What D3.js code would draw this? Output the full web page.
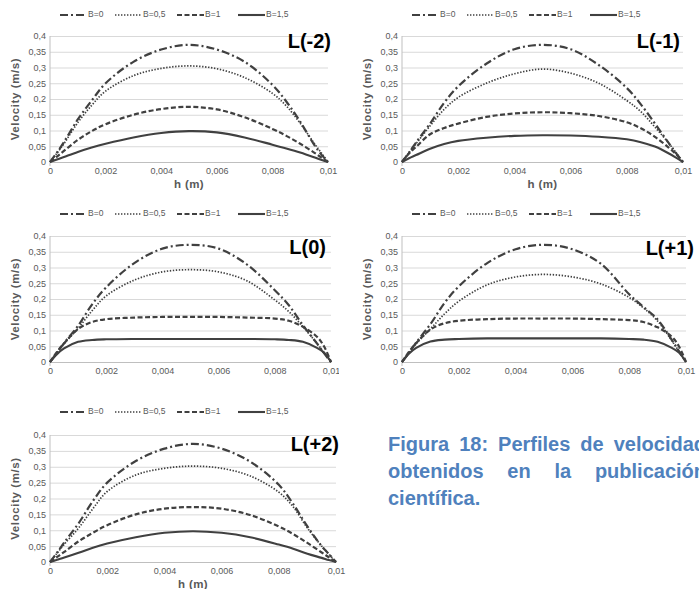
<!DOCTYPE html>
<html>
<head>
<meta charset="utf-8">
<script src="https://cdn.jsdelivr.net/npm/d3@7"></script>
<style>
  body { margin: 0; background: #fff; }
  svg { display: block; }
</style>
</head>
<body>
<div id="chart"></div>
<script>
// channel position h (m), shared by every profile
var hValues = [0, 0.00025, 0.0005, 0.001, 0.0015, 0.002, 0.003, 0.004, 0.005, 0.006, 0.007, 0.008, 0.0085, 0.009, 0.0095, 0.00975, 0.01];

var seriesNames = ["B=0", "B=0,5", "B=1", "B=1,5"];

var yTicks = [0, 0.05, 0.1, 0.15, 0.2, 0.25, 0.3, 0.35, 0.4];
var yTickLabels = ["0", "0,05", "0,1", "0,15", "0,2", "0,25", "0,3", "0,35", "0,4"];
var xTicks = [0, 0.002, 0.004, 0.006, 0.008, 0.01];
var xTickLabels = ["0", "0,002", "0,004", "0,006", "0,008", "0,01"];

// velocity (m/s), one row per B value
var profilesLm2 = [
  [0, 0.03, 0.063, 0.135, 0.195, 0.25, 0.318, 0.357, 0.372, 0.357, 0.318, 0.245, 0.192, 0.128, 0.055, 0.025, 0],
  [0, 0.028, 0.058, 0.125, 0.18, 0.225, 0.274, 0.297, 0.305, 0.296, 0.268, 0.218, 0.178, 0.123, 0.06, 0.03, 0],
  [0, 0.017, 0.035, 0.07, 0.098, 0.12, 0.15, 0.168, 0.175, 0.167, 0.142, 0.105, 0.083, 0.058, 0.03, 0.015, 0],
  [0, 0.008, 0.016, 0.032, 0.046, 0.058, 0.078, 0.092, 0.098, 0.094, 0.078, 0.055, 0.043, 0.03, 0.015, 0.007, 0]
];
var profilesLm1 = [
  [0, 0.03, 0.062, 0.122, 0.188, 0.24, 0.312, 0.358, 0.372, 0.358, 0.308, 0.235, 0.183, 0.122, 0.059, 0.028, 0],
  [0, 0.03, 0.058, 0.115, 0.167, 0.205, 0.25, 0.28, 0.295, 0.282, 0.25, 0.195, 0.16, 0.111, 0.059, 0.03, 0],
  [0, 0.027, 0.048, 0.088, 0.108, 0.122, 0.143, 0.154, 0.158, 0.155, 0.146, 0.126, 0.107, 0.08, 0.045, 0.025, 0],
  [0, 0.012, 0.022, 0.042, 0.057, 0.067, 0.077, 0.083, 0.085, 0.084, 0.08, 0.072, 0.063, 0.049, 0.027, 0.014, 0]
];
var profilesL0 = [
  [0, 0.03, 0.06, 0.115, 0.183, 0.237, 0.314, 0.36, 0.372, 0.36, 0.31, 0.228, 0.18, 0.117, 0.059, 0.028, 0],
  [0, 0.03, 0.058, 0.107, 0.163, 0.21, 0.26, 0.286, 0.293, 0.286, 0.258, 0.197, 0.16, 0.112, 0.059, 0.03, 0],
  [0, 0.032, 0.059, 0.105, 0.127, 0.136, 0.141, 0.143, 0.143, 0.143, 0.141, 0.138, 0.131, 0.112, 0.08, 0.05, 0],
  [0, 0.025, 0.043, 0.064, 0.07, 0.072, 0.073, 0.073, 0.073, 0.073, 0.073, 0.072, 0.07, 0.064, 0.045, 0.03, 0]
];
var profilesLp1 = [
  [0, 0.03, 0.062, 0.12, 0.188, 0.24, 0.314, 0.358, 0.372, 0.358, 0.312, 0.215, 0.175, 0.135, 0.07, 0.035, 0],
  [0, 0.03, 0.058, 0.105, 0.153, 0.193, 0.245, 0.27, 0.278, 0.27, 0.248, 0.205, 0.172, 0.13, 0.068, 0.034, 0],
  [0, 0.033, 0.06, 0.103, 0.123, 0.131, 0.136, 0.138, 0.138, 0.138, 0.136, 0.133, 0.127, 0.11, 0.08, 0.05, 0],
  [0, 0.027, 0.045, 0.065, 0.071, 0.073, 0.075, 0.075, 0.075, 0.075, 0.075, 0.073, 0.071, 0.064, 0.045, 0.03, 0]
];
var profilesLp2 = [
  [0, 0.03, 0.062, 0.122, 0.192, 0.25, 0.318, 0.357, 0.372, 0.357, 0.316, 0.243, 0.183, 0.112, 0.05, 0.025, 0],
  [0, 0.028, 0.056, 0.107, 0.168, 0.222, 0.274, 0.295, 0.302, 0.295, 0.271, 0.22, 0.174, 0.107, 0.05, 0.025, 0],
  [0, 0.016, 0.032, 0.065, 0.092, 0.116, 0.15, 0.168, 0.173, 0.168, 0.148, 0.112, 0.088, 0.06, 0.03, 0.015, 0],
  [0, 0.007, 0.014, 0.029, 0.045, 0.058, 0.078, 0.092, 0.097, 0.092, 0.078, 0.055, 0.042, 0.026, 0.013, 0.006, 0]
];

var captionLines = [
  ["Figura", "18:", "Perfiles", "de", "velocidad"],
  ["obtenidos", "en", "la", "publicación"],
  ["científica."]
];

// line looks per series
var lineStyles = [
  { dash: "8,3,2,3", width: 2.2 },
  { dash: "1.4,1.6", width: 1.7 },
  { dash: "5,2.5", width: 2.2 },
  { dash: null, width: 2.1 }
];

var panels = [
  { data: profilesLm2, title: "L(-2)", left: 50, right: 328, top: 36, bottom: 162, legendY: 15, titleX: 331, titleY: 48, clip: [0, 0, 339, 200] },
  { data: profilesLm1, title: "L(-1)", left: 402, right: 683, top: 36, bottom: 162, legendY: 15, titleX: 680, titleY: 48, clip: [350, 0, 349, 200] },
  { data: profilesL0, title: "L(0)", left: 50, right: 331, top: 236, bottom: 362, legendY: 214, titleX: 326, titleY: 254, clip: [0, 200, 339, 180] },
  { data: profilesLp1, title: "L(+1)", left: 402, right: 686, top: 236, bottom: 362, legendY: 214, titleX: 694, titleY: 255, clip: [350, 200, 349, 180] },
  { data: profilesLp2, title: "L(+2)", left: 50, right: 336, top: 435, bottom: 562, legendY: 412, titleX: 339, titleY: 451, clip: [0, 395, 350, 194] }
];

var legendOffsets = [10, 65, 127, 188];
var font = "'Liberation Sans', Arial, sans-serif";
var ink = "#404040";
var labelColor = "#595959";

var svg = d3.select("#chart").append("svg")
  .attr("width", 699)
  .attr("height", 589)
  .style("font-family", font);

panels.forEach(function (p, pi) {
  svg.append("clipPath").attr("id", "clip" + pi)
    .append("rect")
    .attr("x", p.clip[0]).attr("y", p.clip[1])
    .attr("width", p.clip[2]).attr("height", p.clip[3]);

  var g = svg.append("g").attr("clip-path", "url(#clip" + pi + ")");

  var x = d3.scaleLinear().domain([0, 0.01]).range([p.left, p.right]);
  var y = d3.scaleLinear().domain([0, 0.4]).range([p.bottom, p.top]);

  // gridlines + y labels
  var yAxis = g.append("g")
    .attr("transform", "translate(" + p.left + ",0)")
    .call(d3.axisLeft(y).tickValues(yTicks)
      .tickSize(-(p.right - p.left))
      .tickPadding(4)
      .tickFormat(function (d, i) { return yTickLabels[i]; }));
  yAxis.select(".domain").remove();
  yAxis.selectAll(".tick line").attr("stroke", "#d9d9d9").attr("stroke-width", 1);
  yAxis.selectAll(".tick text")
    .attr("fill", labelColor)
    .style("font-size", "9px")
    .style("font-family", font);

  var xAxis = g.append("g")
    .attr("transform", "translate(0," + p.bottom + ")")
    .call(d3.axisBottom(x).tickValues(xTicks)
      .tickSize(0)
      .tickPadding(6)
      .tickFormat(function (d, i) { return xTickLabels[i]; }));
  xAxis.select(".domain").attr("stroke", "#bfbfbf");
  xAxis.selectAll(".tick text")
    .attr("fill", labelColor)
    .style("font-size", "9px")
    .style("font-family", font);

  g.append("line")
    .attr("x1", p.left).attr("x2", p.left)
    .attr("y1", p.top).attr("y2", p.bottom + 4)
    .attr("stroke", "#bfbfbf");

  // axis titles
  g.append("text")
    .attr("transform", "translate(" + (p.left - 34) + "," + ((p.top + p.bottom) / 2) + ") rotate(-90)")
    .attr("text-anchor", "middle")
    .attr("dominant-baseline", "middle")
    .attr("fill", labelColor)
    .style("font-size", "11.5px")
    .style("font-weight", "bold")
    .style("letter-spacing", "0.6px")
    .text("Velocity (m/s)");

  g.append("text")
    .attr("x", (p.left + p.right) / 2)
    .attr("y", p.bottom + 23)
    .attr("text-anchor", "middle")
    .attr("dominant-baseline", "middle")
    .attr("fill", labelColor)
    .style("font-size", "11.5px")
    .style("font-weight", "bold")
    .style("letter-spacing", "0.4px")
    .text("h (m)");

  // profiles
  var line = d3.line()
    .x(function (d, i) { return x(hValues[i]); })
    .y(function (d) { return y(d); })
    .curve(d3.curveCatmullRom.alpha(0.5));

  p.data.forEach(function (series, si) {
    g.append("path")
      .datum(series)
      .attr("d", line)
      .attr("fill", "none")
      .attr("stroke", ink)
      .attr("stroke-width", lineStyles[si].width)
      .attr("stroke-dasharray", lineStyles[si].dash);
  });

  // legend
  seriesNames.forEach(function (name, si) {
    var lx = p.left + legendOffsets[si];
    g.append("line")
      .attr("x1", lx).attr("x2", lx + 27)
      .attr("y1", p.legendY).attr("y2", p.legendY)
      .attr("stroke", ink)
      .attr("stroke-width", lineStyles[si].width)
      .attr("stroke-dasharray", lineStyles[si].dash);
    g.append("text")
      .attr("x", lx + 28)
      .attr("y", p.legendY)
      .attr("dominant-baseline", "middle")
      .attr("fill", labelColor)
      .style("font-size", "8.5px")
      .text(name);
  });

  // panel title
  g.append("text")
    .attr("x", p.titleX)
    .attr("y", p.titleY)
    .attr("text-anchor", "end")
    .attr("fill", "#000")
    .style("font-size", "20px")
    .style("font-weight", "bold")
    .text(p.title);
});

// caption, justified like the source document (it runs past the right edge there too)
var capLeft = 388, capRight = 706, capTop = 451, capStep = 27;
captionLines.forEach(function (words, li) {
  var nodes = words.map(function (w) {
    return svg.append("text")
      .attr("y", capTop + li * capStep)
      .attr("fill", "#4f81bd")
      .style("font-size", "20px")
      .style("font-weight", "bold")
      .text(w);
  });
  var widths = nodes.map(function (n) { return n.node().getComputedTextLength(); });
  var total = d3.sum(widths);
  var gap = words.length > 1 && li < captionLines.length - 1
    ? (capRight - capLeft - total) / (words.length - 1) : 5;
  var cx = capLeft;
  nodes.forEach(function (n, i) {
    n.attr("x", cx);
    cx += widths[i] + gap;
  });
});
</script>
</body>
</html>
